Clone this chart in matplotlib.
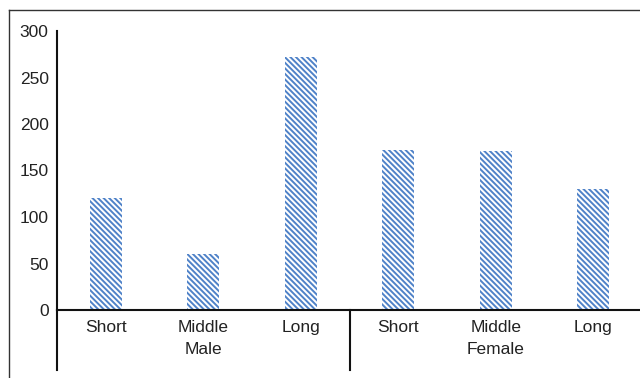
import matplotlib
matplotlib.use("Agg")
import matplotlib.pyplot as plt
from matplotlib.lines import Line2D

groups = ["Male", "Female"]
lengths = ["Short", "Middle", "Long"]
values = [120, 60, 272, 172, 171, 130]
yticks = [0, 50, 100, 150, 200, 250, 300]

plt.rcParams["font.family"] = ["Liberation Sans", "DejaVu Sans"]
plt.rcParams["hatch.linewidth"] = 1.4

BLUE = "#4f82c8"
TXT = "#222222"
FS = 12.5

fig = plt.figure(figsize=(6.4, 3.78), dpi=100)
ax = fig.add_axes([57 / 640, 1 - 310 / 378, 585 / 640, 279 / 378])

x = list(range(len(values)))
ax.bar(x, values, width=0.33, facecolor="white", edgecolor=BLUE,
       hatch="\\" * 6, linewidth=0)

ax.set_xlim(-0.5, 5.5)
ax.set_ylim(0, 300)
ax.set_yticks(yticks)
ax.set_yticklabels([str(v) for v in yticks], fontsize=FS, color=TXT)
ax.tick_params(axis="y", length=0, pad=6)
ax.set_xticks(x)
ax.set_xticklabels(lengths * 2, fontsize=FS, color=TXT)
ax.tick_params(axis="x", length=0, pad=7)

for s in ["top", "right"]:
    ax.spines[s].set_visible(False)
for s in ["left", "bottom"]:
    ax.spines[s].set_linewidth(1.5)
    ax.spines[s].set_color("#111111")

# group separators and labels below the axis
trans = ax.get_xaxis_transform()
for gx in [-0.5, 2.5]:
    ax.add_line(Line2D([gx, gx], [0, -0.215], transform=trans, color="#111111",
                       lw=1.5, clip_on=False))
for i, g in enumerate(groups):
    ax.text(1 + 3 * i, -0.14, g, transform=trans, ha="center", va="center",
            fontsize=FS, color=TXT)

# outer frame (top and left edges visible)
fig.add_artist(Line2D([9 / 640, 1.0], [1 - 10 / 378, 1 - 10 / 378],
                      transform=fig.transFigure, color="#333333", lw=1.0))
fig.add_artist(Line2D([9 / 640, 9 / 640], [0, 1 - 10 / 378],
                      transform=fig.transFigure, color="#333333", lw=1.0))

fig.savefig("out.png", dpi=100)
